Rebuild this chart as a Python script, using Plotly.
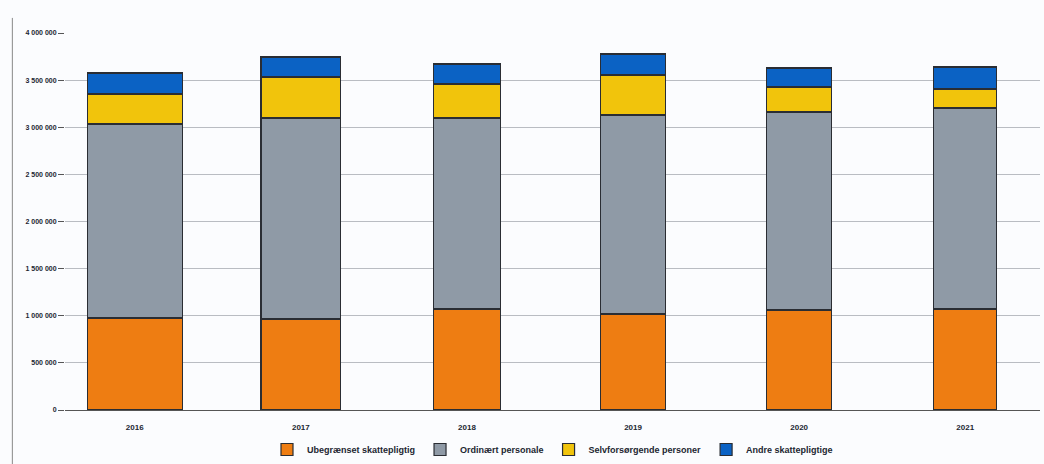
import plotly.graph_objects as go

years = ["2016", "2017", "2018", "2019", "2020", "2021"]
series_names = [
    "Ubegrænset skattepligtig",
    "Ordinært personale",
    "Selvforsørgende personer",
    "Andre skattepligtige",
]
orange_vals = [976000, 965000, 1072000, 1019000, 1061000, 1072000]
gray_vals = [2058000, 2133000, 2026000, 2111000, 2101000, 2132000]
yellow_vals = [319000, 435000, 361000, 424000, 265000, 202000]
blue_vals = [222000, 212000, 212000, 223000, 202000, 233000]

y_ticks = [0, 500000, 1000000, 1500000, 2000000, 2500000, 3000000, 3500000, 4000000]
y_tick_text = ["0", "500 000", "1 000 000", "1 500 000", "2 000 000",
               "2 500 000", "3 000 000", "3 500 000", "4 000 000"]

colors = ["#EE7D12", "#8F9AA6", "#F1C40C", "#0B62C4"]
bar_widths = [0.57, 0.48, 0.40, 0.39, 0.39, 0.38]

fig = go.Figure()
for name, vals, col in zip(series_names,
                           [orange_vals, gray_vals, yellow_vals, blue_vals],
                           colors):
    fig.add_trace(go.Bar(
        x=years, y=vals, name=name, width=bar_widths,
        marker=dict(color=col, line=dict(color="#2a2d33", width=1.2)),
    ))

fig.update_layout(
    barmode="stack",
    width=1044, height=464,
    margin=dict(l=65, r=4, t=33, b=54, autoexpand=False),
    paper_bgcolor="#fbfcfe",
    plot_bgcolor="#fbfcfe",
    font=dict(family="Liberation Sans, Arial, sans-serif", size=8, color="#222631"),
    showlegend=True,
    legend=dict(orientation="h", x=0.5, xanchor="center",
                yref="container", y=0.0, yanchor="bottom",
                font=dict(size=9, color="#222631", weight="bold"),
                traceorder="normal", itemwidth=30),
    xaxis=dict(range=[-0.42, 5.45], showgrid=False, showline=True,
               linecolor="#555", linewidth=1, ticks="",
               ticklabelstandoff=9,
               tickfont=dict(size=8, weight="bold")),
    yaxis=dict(range=[0, 4000000], tickvals=y_ticks, ticktext=y_tick_text,
               showgrid=True, gridcolor="#b9bcc2", gridwidth=1,
               zeroline=False, ticks="outside", ticklen=6, tickcolor="#555",
               tickfont=dict(size=7, weight="bold")),
)
fig.add_shape(type="line", xref="paper", yref="paper", x0=-0.054, x1=-0.054,
              y0=-0.15, y1=1.04, line=dict(color="#888", width=1))

fig.write_html("out.html")
